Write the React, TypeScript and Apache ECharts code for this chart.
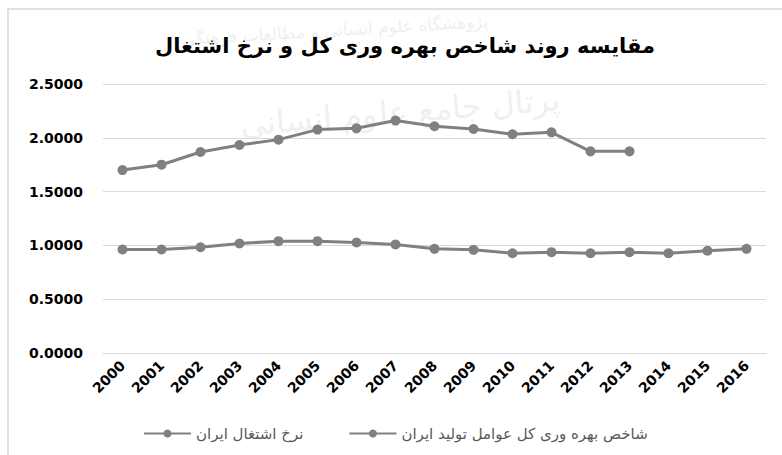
import React, { useEffect, useRef } from "react";
import * as echarts from "echarts";

const titleText = "مقایسه روند شاخص بهره وری کل و نرخ اشتغال";
const years = ["2000","2001","2002","2003","2004","2005","2006","2007","2008","2009","2010","2011","2012","2013","2014","2015","2016"];
const seriesNames = ["نرخ اشتغال ایران", "شاخص بهره وری کل عوامل تولید ایران"];
const upperValues = [1.700, 1.750, 1.868, 1.933, 1.983, 2.076, 2.088, 2.160, 2.107, 2.082, 2.033, 2.051, 1.874, 1.874, null, null, null];
const lowerValues = [0.962, 0.962, 0.983, 1.018, 1.039, 1.039, 1.027, 1.008, 0.968, 0.959, 0.927, 0.937, 0.927, 0.937, 0.927, 0.950, 0.968];
const watermark1 = "پژوهشگاه علوم انسانی و مطالعات فرهنگی";
const watermark2 = "پرتال جامع علوم انسانی";

export default function App() {
  const ref = useRef<HTMLDivElement>(null);
  useEffect(() => {
    if (!ref.current) return;
    const chart = echarts.init(ref.current, null, { renderer: "svg" });
    const lineColor = "#808080";
    const mkSeries = (name: string, data: (number | null)[]) => ({
      name,
      type: "line",
      data,
      symbol: "circle",
      symbolSize: 10,
      showSymbol: true,
      connectNulls: false,
      lineStyle: { color: lineColor, width: 3 },
      itemStyle: { color: lineColor },
      z: 3,
    });
    chart.setOption({
      animation: false,
      backgroundColor: "#ffffff",
      title: {
        text: titleText,
        left: 400,
        textAlign: "center",
        top: 30,
        textStyle: { fontFamily: "DejaVu Sans", fontWeight: "bold", fontSize: 21, color: "#000000" },
      },
      graphic: [
        {
          type: "rect",
          shape: { x: 8, y: 9, width: 800, height: 470 },
          style: { fill: "none", stroke: "#d9d9d9", lineWidth: 1.5 },
          silent: true,
          z: -10,
        },
        {
          type: "text",
          x: 335,
          y: 30,
          rotation: 0.06,
          style: {
            text: watermark1,
            fontFamily: "DejaVu Sans",
            fontSize: 17,
            fill: "#efefef",
            align: "center",
            verticalAlign: "middle",
          },
          silent: true,
          z: -5,
        },
        {
          type: "text",
          x: 400,
          y: 112,
          rotation: 0.08,
          style: {
            text: watermark2,
            fontFamily: "DejaVu Sans",
            fontSize: 32,
            fill: "#f0f0f0",
            align: "center",
            verticalAlign: "middle",
          },
          silent: true,
          z: -5,
        },
      ],
      legend: {
        data: seriesNames,
        left: 138,
        top: 421,
        itemWidth: 47,
        itemHeight: 10,
        itemGap: 45,
        textStyle: { fontFamily: "DejaVu Sans", fontSize: 15, color: "#595959" },
      },
      grid: { left: 103, right: 16, top: 84, bottom: 102, containLabel: false },
      xAxis: {
        type: "category",
        data: years,
        boundaryGap: true,
        axisLine: { show: true, lineStyle: { color: "#d9d9d9" } },
        axisTick: { show: false },
        axisLabel: {
          rotate: 45,
          margin: 10,
          interval: 0,
          fontFamily: "DejaVu Sans",
          fontWeight: "bold",
          fontSize: 14,
          color: "#000000",
        },
      },
      yAxis: {
        type: "value",
        min: 0,
        max: 2.5,
        interval: 0.5,
        axisLine: { show: false },
        axisTick: { show: false },
        splitLine: { lineStyle: { color: "#d9d9d9" } },
        axisLabel: {
          margin: 20,
          fontFamily: "DejaVu Sans",
          fontWeight: "bold",
          fontSize: 14,
          color: "#000000",
          formatter: (v: number) => v.toFixed(4),
        },
      },
      series: [mkSeries(seriesNames[0], upperValues), mkSeries(seriesNames[1], lowerValues)],
    });
    return () => chart.dispose();
  }, []);
  return (
    <div
      ref={ref}
      style={{ position: "fixed", left: 0, top: 0, width: 782, height: 455, background: "#fff" }}
    />
  );
}
